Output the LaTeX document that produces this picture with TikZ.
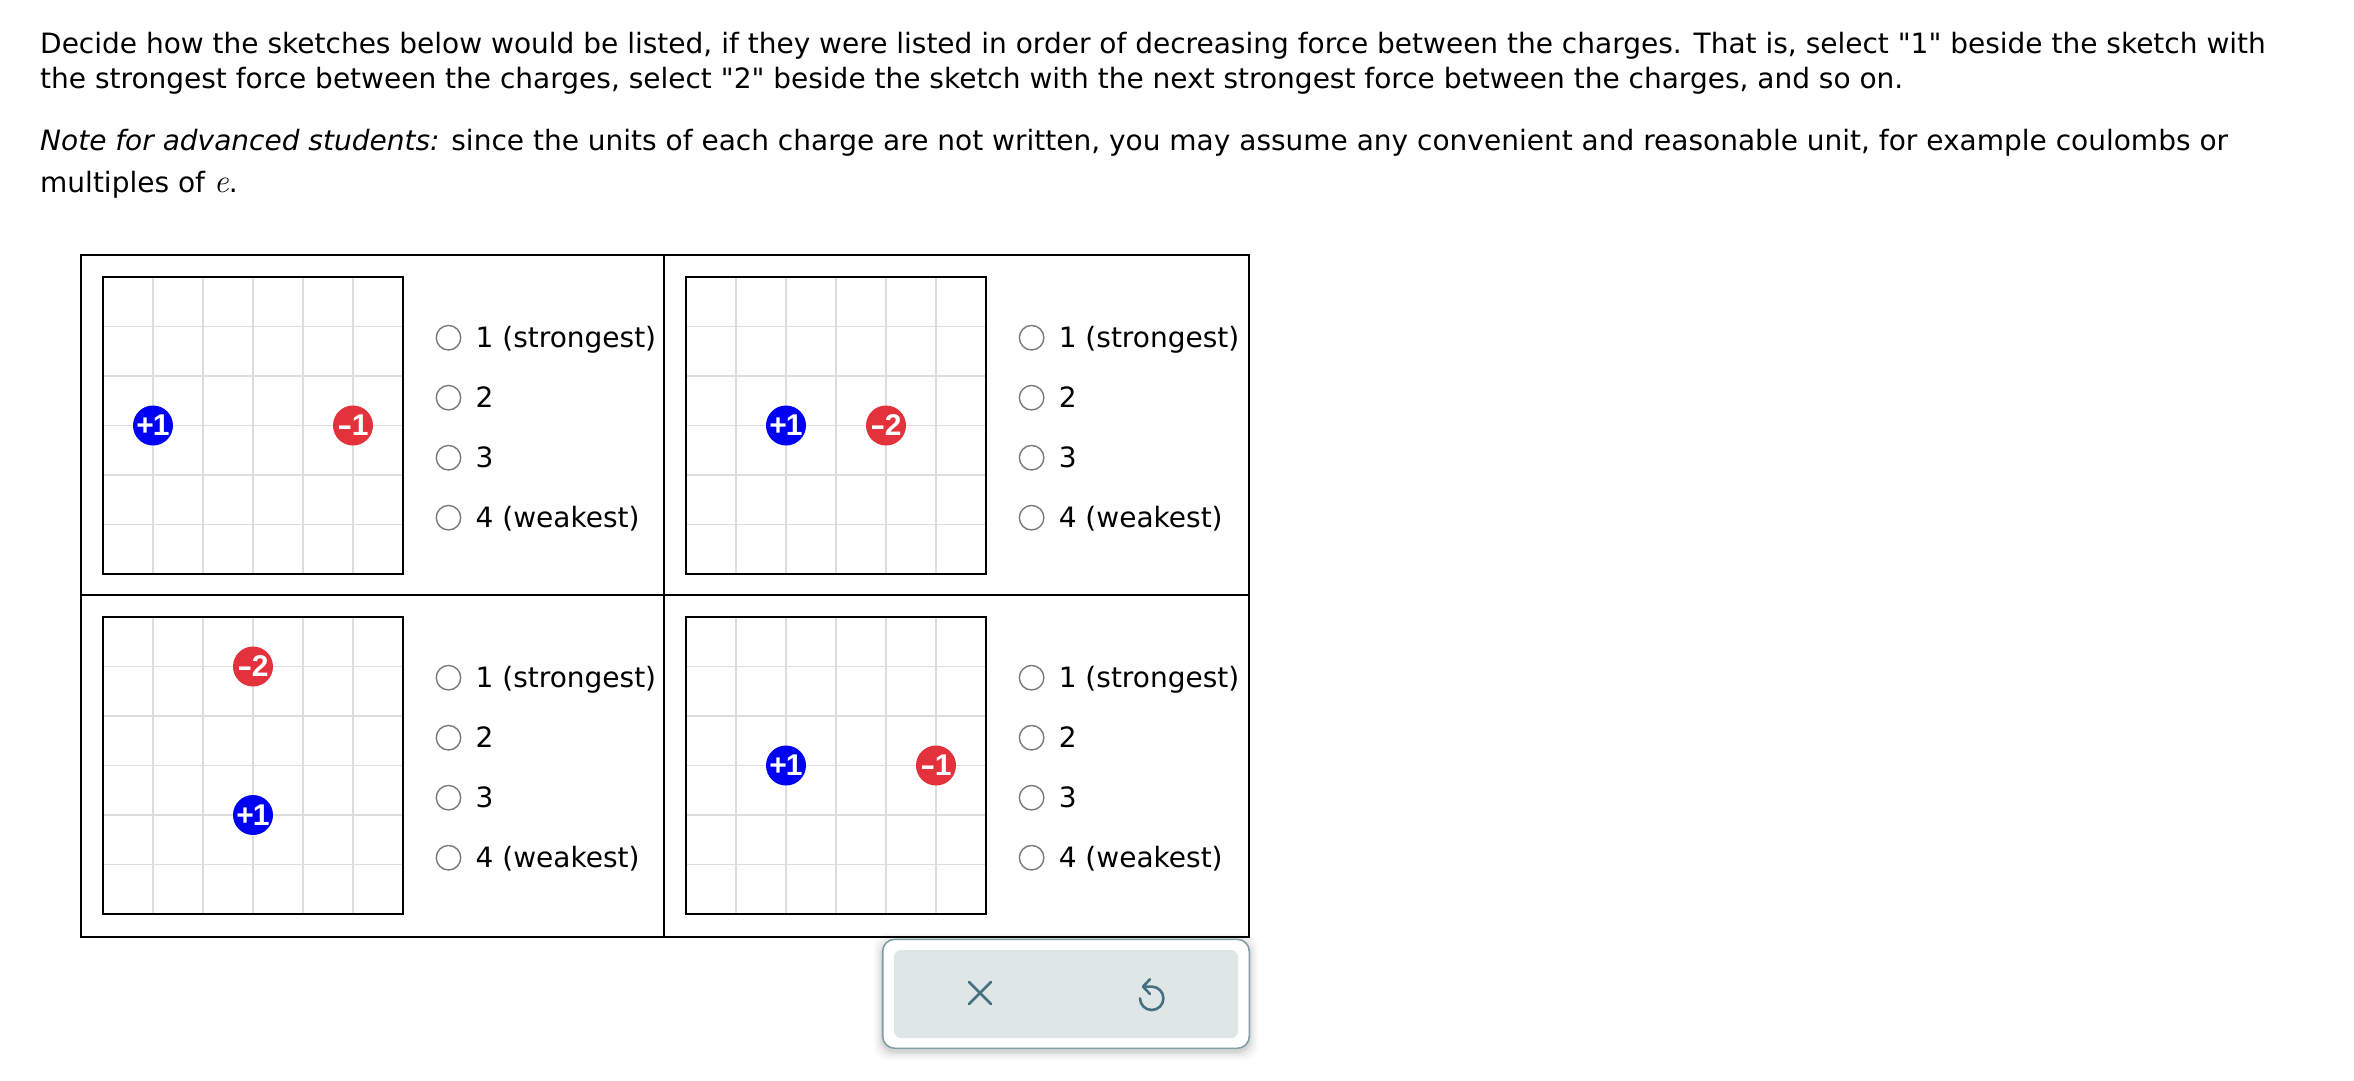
\documentclass[tikz,border=0pt]{standalone}
\usepackage{graphicx}
\usepackage{fontspec}
\setmainfont{DejaVu Sans}[Ligatures=TeXOff]
\newfontfamily\chargefont{Liberation Sans}
\newfontfamily\lmserif{Latin Modern Roman}
\definecolor{qblue}{HTML}{0000F2}
\definecolor{qred}{HTML}{E4323D}
\definecolor{radiogray}{HTML}{7A7A7A}
\definecolor{gridgray}{HTML}{DDDDDD}
\definecolor{btnedge}{HTML}{7F9EA8}
\definecolor{btnfill}{HTML}{DFE6E8}
\definecolor{iconcol}{HTML}{46707F}
\newcommand{\qminus}{\scalebox{1.5}[1]{-}\kern-0.5pt}
\newcommand{\qplus}{+\kern-1pt}
\tikzset{
  tbl/.style={line width=2pt, draw=black},
  sketchbox/.style={line width=2pt, draw=black},
  gridline/.style={line width=1.5pt, draw=gridgray},
  radio/.style={circle, draw=radiogray, line width=1.4pt, minimum size=24.5pt, inner sep=0pt},
  optlabel/.style={anchor=base west, inner sep=0pt, font=\fontsize{28}{33}\selectfont},
  maintext/.style={anchor=base west, inner sep=0pt, font=\fontsize{28}{33}\selectfont},
  charge/.style={circle, minimum size=40pt, inner sep=0pt, text=white, font=\chargefont\bfseries\fontsize{30}{32}\selectfont},
  qpos/.style={charge, fill=qblue},
  qneg/.style={charge, fill=qred},
  iconline/.style={draw=iconcol, line width=2.6pt, line cap=round, line join=round},
}
\begin{document}
\begin{tikzpicture}[x=1pt,y=-1pt]
\useasboundingbox (0,0) rectangle (2354,1080);
\fill[white] (0,0) rectangle (2354,1080);

% text
\node[maintext] (t1) at (40,53.5) {Decide how the sketches below would be listed, if they were listed in order of decreasing force between the charges. That is, select "1" beside the sketch with};
\node[maintext] (t2) at (40,88.5) {the strongest force between the charges, select "2" beside the sketch with the next strongest force between the charges, and so on.};
\node[maintext] (t3) at (40,150.5) {\textit{Note for advanced students:} since the units of each charge are not written, you may assume any convenient and reasonable unit, for example coulombs or};
\node[maintext] (t4) at (40,192.5) {multiples of {\lmserif\itshape\fontsize{33}{33}\selectfont e}.};

% sketches: grids and boxes
\foreach \ox/\oy in {103/277, 686/277, 103/617, 686/617} {
  \foreach \i in {1,...,5} {
    \draw[gridline] (\ox+50*\i,\oy) -- (\ox+50*\i,\oy+297);
    \draw[gridline] (\ox,\oy+49.5*\i) -- (\ox+300,\oy+49.5*\i);
  }
  \draw[sketchbox] (\ox,\oy) rectangle (\ox+300,\oy+297);
}

% table
\draw[tbl] (81,255) rectangle (1249,937);
\draw[tbl] (664,255) -- (664,937);
\draw[tbl] (81,595) -- (1249,595);

% charges
\node[qpos] (a1) at (153,425.5) {\qplus 1};
\node[qneg] (a2) at (353,425.5) {\qminus 1};
\node[qpos] (b1) at (786,425.5) {\qplus 1};
\node[qneg] (b2) at (886,425.5) {\qminus 2};
\node[qneg] (c1) at (253,666.5) {\qminus 2};
\node[qpos] (c2) at (253,815) {\qplus 1};
\node[qpos] (d1) at (786,765.5) {\qplus 1};
\node[qneg] (d2) at (936,765.5) {\qminus 1};

% radio options
\foreach \nm/\rx/\ry in {a/448.5/337.7, b/1031.6/337.7, c/448.5/677.7, d/1031.6/677.7} {
  \node[radio] (\nm r1) at (\rx,\ry) {};
  \node[radio] (\nm r2) at (\rx,\ry+60) {};
  \node[radio] (\nm r3) at (\rx,\ry+120) {};
  \node[radio] (\nm r4) at (\rx,\ry+180) {};
  \node[optlabel] (\nm l1) at (\rx+27,\ry+9.5) {1 (strongest)};
  \node[optlabel] (\nm l2) at (\rx+27,\ry+69.5) {2};
  \node[optlabel] (\nm l3) at (\rx+27,\ry+129.5) {3};
  \node[optlabel] (\nm l4) at (\rx+27,\ry+189.5) {4 (weakest)};
}

% button bar with soft shadow
\foreach \s/\o in {9/0.02, 7/0.025, 5/0.03, 3/0.04, 1.5/0.05} {
  \fill[black, opacity=\o, rounded corners=14pt] (882.7-\s,939.3-\s+3) rectangle (1249.3+\s,1048.3+\s+3);
}
\draw[draw=btnedge, fill=white, line width=1.6pt, rounded corners=12pt] (882.7,939.3) rectangle (1249.3,1048.3);
\fill[btnfill, rounded corners=7pt] (894,950) rectangle (1238,1038);
% X icon
\draw[iconline] (969,982) -- (991,1004);
\draw[iconline] (991,982) -- (969,1004);
% undo icon
\coordinate (uc) at (1151.7,998.3);
\draw[iconline] (1143.5,986.6) -- (1151.7,986.6) arc[start angle=-90, end angle=180, radius=11.7];
\draw[iconline] (1150,979.2) -- (1143,986.6) -- (1150,994);
\end{tikzpicture}
\end{document}
